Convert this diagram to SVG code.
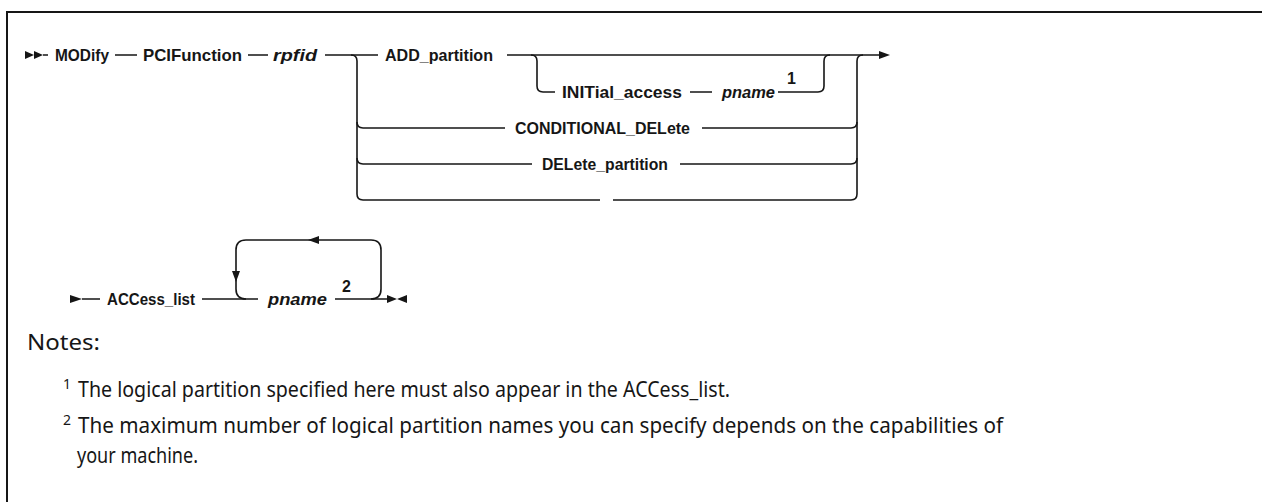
<svg xmlns="http://www.w3.org/2000/svg" width="1262" height="502" viewBox="0 0 1262 502">
<style>
.ln{fill:none;stroke:#161616;stroke-width:1.6}
.ah{fill:#161616}
.lb{font-family:"Liberation Sans",Arial,sans-serif;font-weight:bold;font-size:17px;fill:#161616}
.it{font-style:italic}
.sp{font-family:"Liberation Sans",Arial,sans-serif;font-weight:bold;font-size:16px;fill:#161616}
.nt{font-family:"Noto Sans","Liberation Sans",sans-serif;font-size:22px;fill:#161616}
.ns{font-family:"Noto Sans","Liberation Sans",sans-serif;font-size:14px;fill:#161616}
</style>
<rect width="1262" height="502" fill="#fff"/>
<g id="frame"><path d="M7,502 V12 H1262" fill="none" stroke="#161616" stroke-width="2"/></g>

<g id="connectors">
<polygon class="ah" points="25,51 34,55 25,59"/>
<polygon class="ah" points="34,51 43,55 34,59"/>
<path class="ln" d="M43,55 H48 M115,55 H137 M248,55 H268 M325,55 H378 M507,55 H880"/>
<polygon class="ah" points="879,51 890,55 879,59"/>
<path class="ln" d="M351,55 Q357,55 357,61 V194 Q357,200 363,200 H600 M613,200 H851 Q857,200 857,194 V61 Q857,55 863,55"/>
<path class="ln" d="M357,122 Q357,128 363,128 H505 M702,128 H851 Q857,128 857,122"/>
<path class="ln" d="M357,158 Q357,164 363,164 H532 M680,164 H851 Q857,164 857,158"/>
<path class="ln" d="M531,55 Q537,55 537,61 V86 Q537,92 543,92 H555 M690,92 H712 M778,92 H818 Q824,92 824,86 V61 Q824,55 830,55"/>
<polygon class="ah" points="70,295 82,299 70,303"/>
<path class="ln" d="M82,299 H100 M202,299 H258 M335,299 H387"/>
<path class="ln" d="M246,299 Q236,299 236,289 V250 Q236,240 246,240 H371 Q381,240 381,250 V289 Q381,299 371,299"/>
<polygon class="ah" points="232,271 240,271 236,282"/>
<polygon class="ah" points="308,240 319,236 319,244"/>
<polygon class="ah" points="387,295 397,299 387,303"/>
<polygon class="ah" points="407,295 397,299 407,303"/>
</g>

<g id="MODify"><text class="lb" x="55" y="61" textLength="54" lengthAdjust="spacingAndGlyphs">MODify</text></g>
<g id="PCIFunction"><text class="lb" x="143" y="61" textLength="99" lengthAdjust="spacingAndGlyphs">PCIFunction</text></g>
<g id="rpfid"><text class="lb it" x="273" y="61" textLength="44" lengthAdjust="spacingAndGlyphs">rpfid</text></g>
<g id="ADD_partition"><text class="lb" x="385" y="61" textLength="108" lengthAdjust="spacingAndGlyphs">ADD_partition</text></g>
<g id="INITial_access"><text class="lb" x="562" y="98" textLength="120" lengthAdjust="spacingAndGlyphs">INITial_access</text></g>
<g id="pname1"><text class="lb it" x="722" y="98" textLength="53" lengthAdjust="spacingAndGlyphs">pname</text><text class="sp" x="787" y="84">1</text></g>
<g id="CONDITIONAL_DELete"><text class="lb" x="515" y="134" textLength="175" lengthAdjust="spacingAndGlyphs">CONDITIONAL_DELete</text></g>
<g id="DELete_partition"><text class="lb" x="542" y="170" textLength="126" lengthAdjust="spacingAndGlyphs">DELete_partition</text></g>
<g id="ACCess_list"><text class="lb" x="107" y="305" textLength="88" lengthAdjust="spacingAndGlyphs">ACCess_list</text></g>
<g id="pname2"><text class="lb it" x="268" y="305" textLength="59" lengthAdjust="spacingAndGlyphs">pname</text><text class="sp" x="342" y="292">2</text></g>

<g id="notes">
<text class="nt" x="27" y="350" textLength="73" lengthAdjust="spacingAndGlyphs">Notes:</text>
<text class="ns" x="63" y="389">1</text>
<text class="nt" x="78" y="397" textLength="652" lengthAdjust="spacingAndGlyphs">The logical partition specified here must also appear in the ACCess_list.</text>
<text class="ns" x="63" y="425">2</text>
<text class="nt" x="78" y="433" textLength="925" lengthAdjust="spacingAndGlyphs">The maximum number of logical partition names you can specify depends on the capabilities of</text>
<text class="nt" x="77" y="463" textLength="121" lengthAdjust="spacingAndGlyphs">your machine.</text>
</g>
</svg>
